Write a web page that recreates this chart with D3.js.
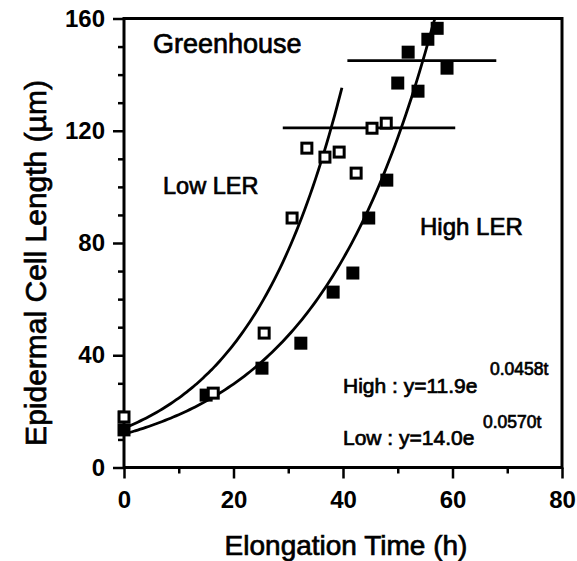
<!DOCTYPE html>
<html>
<head>
<meta charset="utf-8">
<script src="https://cdn.jsdelivr.net/npm/d3@7/dist/d3.min.js"></script>
<style>
  body { margin: 0; background: #fff; }
  svg { display: block; font-family: "Liberation Sans", Arial, Helvetica, sans-serif; }
  .tick text { font-weight: bold; font-size: 24px; fill: #000; }
  .tick line { stroke: #000; stroke-width: 2.5; }
  .label { fill: #000; stroke: #000; stroke-width: 0.7; }
</style>
</head>
<body>
<svg></svg>
<script>
const WIDTH = 577,
  HEIGHT = 561;
const margin = { top: 18.5, right: 15, bottom: 93.5, left: 124 };

// Low LER (open squares)
const lowTime = [0, 16.3, 25.6, 30.7, 33.4, 36.7, 39.3, 42.4, 45.3, 47.9];
const lowLength = [18, 26.5, 47.9, 88.9, 113.8, 110.6, 112.4, 104.9, 120.9, 122.7];
// High LER (filled squares)
const highTime = [0, 15, 25.2, 32.3, 38.2, 41.8, 44.7, 48, 50, 51.9, 53.7, 55.5, 57.2, 59];
const highLength = [13.4, 25.8, 35.4, 44.3, 62.5, 69.3, 88.9, 102.4, 137, 148, 134.1, 152.6, 156.5, 142.3];

// fitted curves y = a * e^(k t), as printed on the chart
const fitNames = ["High", "Low"];
const fitA = [11.9, 14.0];
const fitK = [0.0458, 0.057];
const fitEnd = [56.8, 39.8];

// horizontal reference lines
const refLength = [121, 145];
const refFrom = [29, 40.8];
const refTo = [60.5, 68];

const xTicks = [0, 20, 40, 60, 80];
const yTicks = [0, 40, 80, 120, 160];

const svg = d3.select("svg").attr("width", WIDTH).attr("height", HEIGHT);

const x = d3.scaleLinear().domain([0, 80]).range([margin.left, WIDTH - margin.right]);
const y = d3.scaleLinear().domain([0, 160]).range([HEIGHT - margin.bottom, margin.top]);

// minor ticks
svg
  .append("g")
  .attr("transform", `translate(0,${y(0)})`)
  .call(d3.axisBottom(x).tickValues(d3.range(10, 80, 20)).tickSize(6).tickFormat(""))
  .call(g => g.select(".domain").remove());
svg
  .append("g")
  .attr("transform", `translate(${x(0)},0)`)
  .call(d3.axisLeft(y).tickValues(d3.range(10, 160, 10).filter(d => d % 40)).tickSize(6).tickFormat(""))
  .call(g => g.select(".domain").remove());

// major ticks
svg
  .append("g")
  .attr("transform", `translate(0,${y(0)})`)
  .call(d3.axisBottom(x).tickValues(xTicks).tickSize(11).tickPadding(12))
  .call(g => g.select(".domain").remove());
svg
  .append("g")
  .attr("transform", `translate(${x(0)},0)`)
  .call(d3.axisLeft(y).tickValues(yTicks).tickSize(11).tickPadding(8))
  .call(g => g.select(".domain").remove());

// frame
svg
  .append("rect")
  .attr("x", x(0))
  .attr("y", y(160))
  .attr("width", x(80) - x(0))
  .attr("height", y(0) - y(160))
  .attr("fill", "none")
  .attr("stroke", "#000")
  .attr("stroke-width", 3);

// fitted curves
const line = d3
  .line()
  .x(d => x(d[0]))
  .y(d => y(d[1]))
  .curve(d3.curveBasis);
fitNames.forEach((name, i) => {
  const pts = d3.range(0, fitEnd[i], 0.5).concat([fitEnd[i]]).map(t => [t, Math.min(160, fitA[i] * Math.exp(fitK[i] * t))]);
  svg
    .append("path")
    .attr("d", line(pts))
    .attr("fill", "none")
    .attr("stroke", "#000")
    .attr("stroke-width", 2.8);
});

// reference lines
svg
  .append("g")
  .selectAll("line")
  .data(refLength)
  .enter()
  .append("line")
  .attr("x1", (d, i) => x(refFrom[i]))
  .attr("x2", (d, i) => x(refTo[i]))
  .attr("y1", d => y(d))
  .attr("y2", d => y(d))
  .attr("stroke", "#000")
  .attr("stroke-width", 2.8);

// markers
const S = 13;
svg
  .append("g")
  .selectAll("rect")
  .data(highTime)
  .enter()
  .append("rect")
  .attr("x", d => x(d) - S / 2)
  .attr("y", (d, i) => y(highLength[i]) - S / 2)
  .attr("width", S)
  .attr("height", S)
  .attr("fill", "#000");
svg
  .append("g")
  .selectAll("rect")
  .data(lowTime)
  .enter()
  .append("rect")
  .attr("x", d => x(d) - (S - 3) / 2)
  .attr("y", (d, i) => y(lowLength[i]) - (S - 3) / 2)
  .attr("width", S - 3)
  .attr("height", S - 3)
  .attr("fill", "#fff")
  .attr("stroke", "#000")
  .attr("stroke-width", 3);

// labels
const addText = (txt, px, py, size) =>
  svg
    .append("text")
    .attr("class", "label")
    .attr("x", px)
    .attr("y", py)
    .style("font-size", size + "px")
    .text(txt);

addText("Greenhouse", 153, 53, 27);
addText("Low LER", 163, 194, 23.5);
addText("High LER", 420, 235, 24);
addText("High : y=11.9e", 343, 393, 21);
addText("0.0458t", 490, 375, 17.5);
addText("Low : y=14.0e", 343, 445, 21);
addText("0.0570t", 483, 428, 17.5);

// axis titles
svg
  .append("text")
  .attr("class", "label")
  .attr("x", (x(0) + x(80)) / 2 + 3)
  .attr("y", 555)
  .attr("text-anchor", "middle")
  .style("font-size", "28px")
  .text("Elongation Time (h)");
svg
  .append("text")
  .attr("class", "label")
  .attr("transform", `translate(46,${(y(0) + y(160)) / 2 + 20}) rotate(-90)`)
  .attr("text-anchor", "middle")
  .style("font-size", "30px")
  .text("Epidermal Cell Length (µm)");
</script>
</body>
</html>
